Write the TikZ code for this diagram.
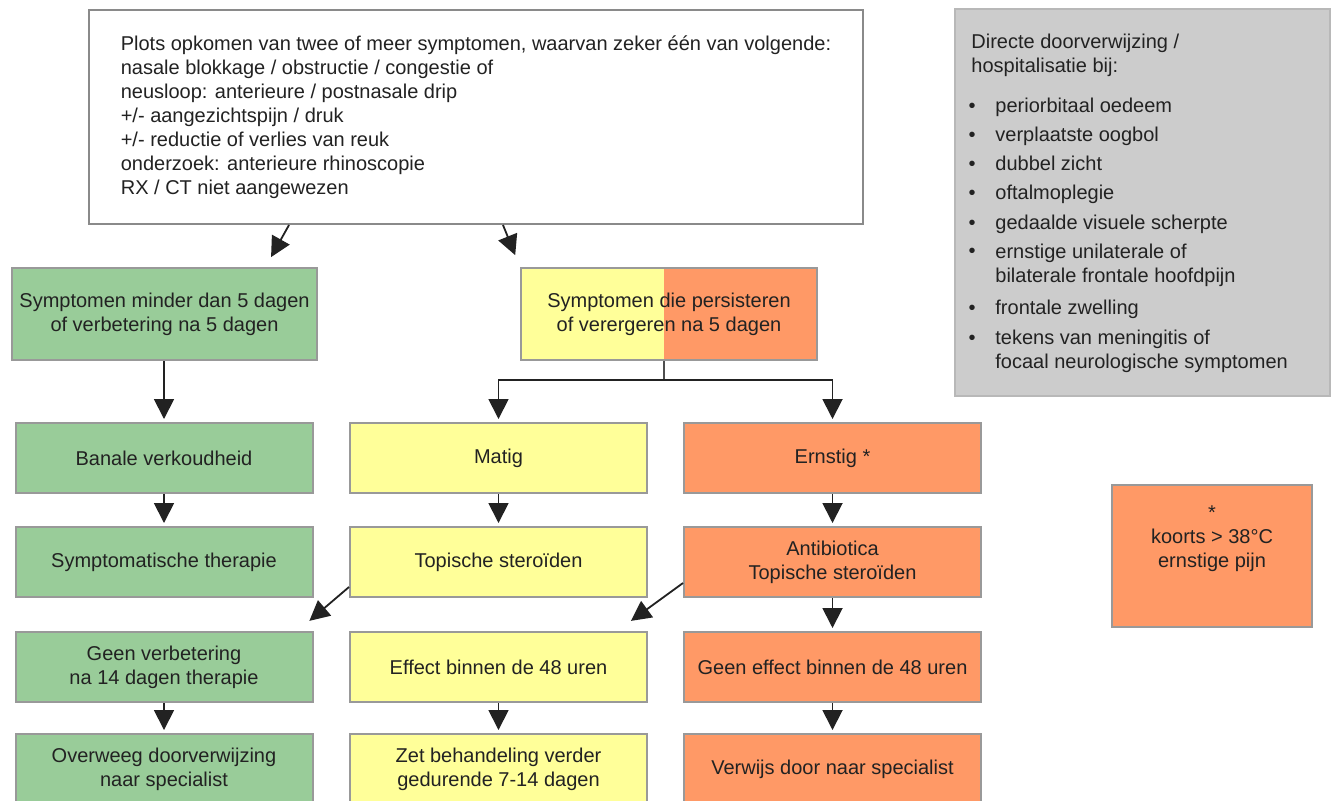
\documentclass[tikz,border=0pt]{standalone}
\usepackage{fontspec}
\setmainfont{Liberation Sans}
\usepackage{tikz}
\usetikzlibrary{arrows.meta}
\definecolor{groen}{HTML}{99CC99}
\definecolor{geel}{HTML}{FFFF99}
\definecolor{oranje}{HTML}{FF9966}
\definecolor{grijs}{HTML}{CCCCCC}
\definecolor{rand}{HTML}{999999}
\definecolor{inkt}{HTML}{222222}
\newcommand{\boxfont}{\fontsize{10}{12}\selectfont}

\begin{document}
\begin{tikzpicture}[x=0.5pt, y=-0.5pt,
  flowbox/.style={draw=rand, line width=1pt, text=inkt, font=\boxfont, align=center,
    minimum width=148.5pt, minimum height=35pt, inner sep=2pt},
  groenbox/.style={flowbox, fill=groen},
  geelbox/.style={flowbox, fill=geel},
  oranjebox/.style={flowbox, fill=oranje},
  tekst/.style={font=\boxfont, text=inkt, inner sep=0pt},
  pijl/.style={draw=inkt, line width=0.9pt, -{Triangle[length=10pt,width=10pt]}, shorten >=1.5pt}]
\clip (0,0) rectangle (1336,800);
\fill[white] (0,0) rectangle (1336,800);

\node[flowbox, fill=white, draw=rand!90!black, minimum width=387pt, minimum height=107pt, align=left] (onset) at (476,117) {%
  Plots opkomen van twee of meer symptomen, waarvan zeker één van volgende:\\
  nasale blokkage / obstructie / congestie of\\
  neusloop: anterieure / postnasale drip\\
  +/- aangezichtspijn / druk\\
  +/- reductie of verlies van reuk\\
  onderzoek: anterieure rhinoscopie\\
  RX / CT niet aangewezen};

% eerste splitsing
\node[groenbox, minimum width=152.5pt, minimum height=46pt] (kort) at (164.5,314) {Symptomen minder dan 5 dagen\\of verbetering na 5 dagen};
\node[flowbox, fill=geel, minimum width=148pt, minimum height=46pt,
      path picture={\fill[oranje] ([xshift=-2.5pt]path picture bounding box.south) rectangle (path picture bounding box.north east);}]
      (aanhoudend) at (669,314) {Symptomen die persisteren\\of verergeren na 5 dagen};

% drie kolommen
\node[groenbox] (banaal) at (164,458) {Banale verkoudheid};
\node[geelbox] (matig) at (498.5,458) {Matig};
\node[oranjebox] (ernstig) at (832.5,458) {Ernstig *};

\node[groenbox] (sympt) at (164,562) {Symptomatische therapie};
\node[geelbox] (topisch) at (498.5,562) {Topische steroïden};
\node[oranjebox] (antibio) at (832.5,562) {Antibiotica\\Topische steroïden};

\node[groenbox] (geenverb) at (164,667) {Geen verbetering\\na 14 dagen therapie};
\node[geelbox] (effect) at (498.5,667) {Effect binnen de 48 uren};
\node[oranjebox] (geeneffect) at (832.5,667) {Geen effect binnen de 48 uren};

\node[groenbox] (overweeg) at (164,769) {Overweeg doorverwijzing\\naar specialist};
\node[geelbox] (verder) at (498.5,769) {Zet behandeling verder\\gedurende 7-14 dagen};
\node[oranjebox] (verwijs) at (832.5,769) {Verwijs door naar specialist};

% kaders rechts
\node[flowbox, fill=grijs, draw=rand!70, minimum width=187.5pt, minimum height=193.5pt] (direct) at (1142.5,202.5) {};
\node[tekst, anchor=west, align=left] (directtitel) at (971,55.5) {\strut Directe doorverwijzing /\\hospitalisatie bij:\strut};
\foreach \by/\ty/\txt in {108/108/periorbitaal oedeem, 137/137/verplaatste oogbol,
    166/166/dubbel zicht, 195/195/oftalmoplegie, 225/225/gedaalde visuele scherpte,
    253/265.5/ernstige unilaterale of\\bilaterale frontale hoofdpijn,
    310/310/frontale zwelling,
    340/351.5/tekens van meningitis of\\focaal neurologische symptomen}{
  \node[tekst] at (972,\by) {\textbullet};
  \node[tekst, anchor=west, align=left] at (995,\ty) {\strut\txt\strut};
}

\node[oranjebox, minimum width=100pt, minimum height=71pt] (koorts) at (1212,556) {};
\node[tekst, align=center] (koortstekst) at ([yshift=8.5pt]koorts.center) {*\\koorts > 38°C\\ernstige pijn};

% pijlen
\draw[pijl, shorten >=5.7pt] ([xshift=100.5pt]onset.south west) -- ([xshift=50.5pt]kort.north);
\draw[pijl, shorten >=6.4pt] ([xshift=207.5pt]onset.south west) -- (aanhoudend.north west);

\draw[pijl] (banaal.north |- kort.south) -- (banaal.north);
\draw[draw=inkt!80, line width=0.9pt] ([xshift=-2.5pt]aanhoudend.south) -- ++(0,19) coordinate (splitsing);
\draw[pijl] (splitsing) -| (matig.north);
\draw[pijl] (splitsing) -| (ernstig.north);

\draw[pijl] (banaal) -- (sympt);
\draw[pijl] (matig) -- (topisch);
\draw[pijl] (ernstig) -- (antibio);

\draw[pijl, shorten >=7.8pt] ([yshift=-12.5pt]topisch.west) -- ([xshift=-8pt]geenverb.north east);
\draw[pijl, shorten >=8.6pt] ([yshift=-10.5pt]antibio.west) -- ([xshift=-15.5pt]effect.north east);
\draw[pijl] (antibio) -- (geeneffect);

\draw[pijl] (geenverb) -- (overweeg);
\draw[pijl] (effect) -- (verder);
\draw[pijl] (geeneffect) -- (verwijs);
\end{tikzpicture}
\end{document}
